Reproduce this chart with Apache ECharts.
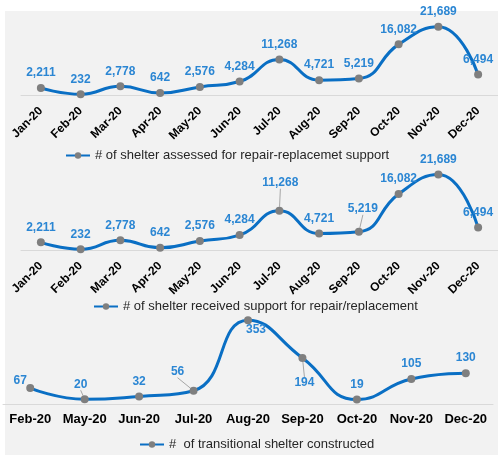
<!DOCTYPE html>
<html>
<head>
<meta charset="utf-8">
<script src="https://cdn.jsdelivr.net/npm/echarts@6/dist/echarts.min.js"></script>
<style>
  html, body { margin: 0; padding: 0; background: #fff; }
  #chart { width: 498px; height: 455px; }
</style>
</head>
<body>
<div id="chart"></div>
<script>
// 数据
var months1 = ['Jan-20', 'Feb-20', 'Mar-20', 'Apr-20', 'May-20', 'Jun-20', 'Jul-20', 'Aug-20', 'Sep-20', 'Oct-20', 'Nov-20', 'Dec-20'];
var assessed = [2211, 232, 2778, 642, 2576, 4284, 11268, 4721, 5219, 16082, 21689, 6494];
var received = [2211, 232, 2778, 642, 2576, 4284, 11268, 4721, 5219, 16082, 21689, 6494];
var months3 = ['Feb-20', 'May-20', 'Jun-20', 'Jul-20', 'Aug-20', 'Sep-20', 'Oct-20', 'Nov-20', 'Dec-20'];
var transitional = [67, 20, 32, 56, 353, 194, 19, 105, 130];

var name1 = '# of shelter assessed for repair-replacemet support';
var name2 = '# of shelter received support for repair/replacement';
var name3 = '#  of transitional shelter constructed';

var lineColor = '#0a6fc4';
var labelColor = '#2b86d3';
var font = 'Liberation Sans, Arial, sans-serif';

//标签偏移 (样式)
var moves2 = { 6: [1, -13], 8: [4, -8] };
var moves3 = { 0: [-10, 8], 1: [-4, 0], 3: [-16, -4], 4: [8, -5], 5: [2, 10] };
var leaders3 = [1, 3, 5];

function makeSeries(name, data, idx, moves, belowIdx, leaders) {
    return {
        name: name,
        type: 'line',
        xAxisIndex: idx,
        yAxisIndex: idx,
        data: data.map(function (v, i) {
            let item = { value: v };
            if (belowIdx && belowIdx.indexOf(i) >= 0) {
                item.label = { position: 'bottom' };
            }
            if (leaders && leaders.indexOf(i) >= 0) {
                item.labelLine = { show: true };
            }
            return item;
        }),
        smooth: 0.5,
        symbol: 'circle',
        symbolSize: 8,
        lineStyle: { color: lineColor, width: 3 },
        itemStyle: { color: '#7f7f7f' },
        label: {
            show: true,
            position: 'top',
            color: labelColor,
            fontWeight: 'bold',
            fontSize: 12,
            fontFamily: font,
            formatter: function (p) { return p.value.toLocaleString('en-US'); }
        },
        labelLine: { show: false, lineStyle: { color: '#a6a6a6', width: 1 } },
        labelLayout: function (p) {
            var m = moves && moves[p.dataIndex];
            if (m) return { dx: m[0], dy: m[1] };
            return {};
        }
    };
}

function makeX(idx, cats, rotate) {
    return {
        type: 'category',
        gridIndex: idx,
        data: cats,
        boundaryGap: true,
        axisLine: { lineStyle: { color: '#d9d9d9', width: 1 } },
        axisTick: { show: false },
        axisLabel: {
            color: '#000',
            fontWeight: 'bold',
            fontSize: rotate ? 12 : 13,
            fontFamily: font,
            rotate: rotate,
            margin: rotate ? 14 : 9,
            interval: 0
        }
    };
}

function makeY(idx, max) {
    return {
        type: 'value',
        gridIndex: idx,
        min: 0,
        max: max,
        show: false,
        splitLine: { show: false }
    };
}

function makeLegend(name, left, top) {
    return {
        data: [name],
        left: left,
        top: top,
        itemWidth: 24,
        itemHeight: 8,
        itemGap: 5,
        textStyle: { color: '#262626', fontSize: 13, fontFamily: font }
    };
}

var chart = echarts.init(document.getElementById('chart'));
chart.setOption({
    animation: false,
    backgroundColor: '#fff',
    graphic: [{
        type: 'rect',
        z: -10,
        shape: { x: 5, y: 11, width: 493, height: 444 },
        style: { fill: '#f2f2f2' }
    }],
    grid: [
        { left: 21, right: 0, top: 10, height: 85 },
        { left: 21, right: 0, top: 156, height: 94 },
        { left: 3, right: 5, top: 309, height: 95 }
    ],
    xAxis: [makeX(0, months1, 45), makeX(1, months1, 45), makeX(2, months3, 0)],
    yAxis: [makeY(0, 27000), makeY(1, 27000), makeY(2, 400)],
    legend: [
        makeLegend(name1, 60, 144),
        makeLegend(name2, 88, 295),
        makeLegend(name3, 134, 433)
    ],
    series: [
        makeSeries(name1, assessed, 0, null, null, null),
        makeSeries(name2, received, 1, moves2, null, [6, 8]),
        makeSeries(name3, transitional, 2, moves3, [4, 5], leaders3)
    ]
});
</script>
</body>
</html>
